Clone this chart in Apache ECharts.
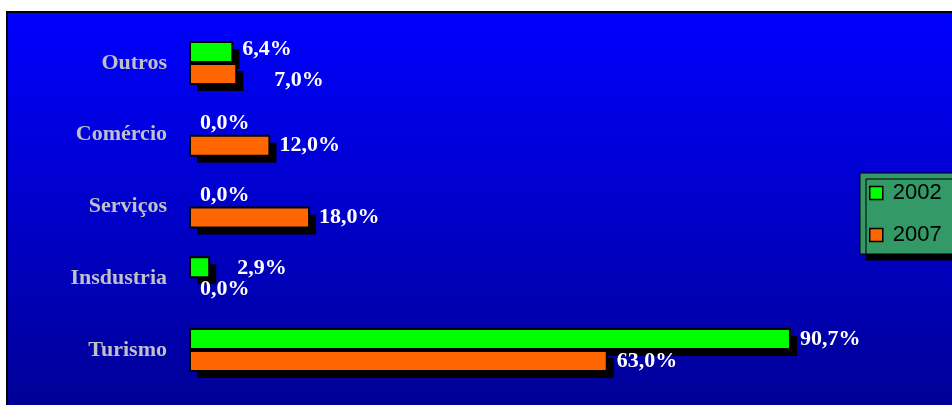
<!DOCTYPE html>
<html>
<head>
<meta charset="utf-8">
<script src="https://cdn.jsdelivr.net/npm/echarts@6/dist/echarts.min.js"></script>
<style>
html,body{margin:0;padding:0;background:#fff;}
#c{width:952px;height:405px;}
</style>
</head>
<body>
<div id="c"></div>
<script>
// ---- data ----
const categories = ['Outros', 'Comércio', 'Serviços', 'Insdustria', 'Turismo'];
const seriesNames = ['2002', '2007'];
const values2002 = [6.4, 0.0, 0.0, 2.9, 90.7];
const values2007 = [7.0, 12.0, 18.0, 0.0, 63.0];

// ---- styling (label nudges copied from the reference layout) ----
const seriesColors = ['#00ff00', '#ff6600'];
const labelNudges = [
  [[0, -3], [0, 0], [0, 0], [18, 1], [0, 0]],
  [[28, 6], [0, 0], [0, 0], [0, 0], [0, 0]]
];

const chart = echarts.init(document.getElementById('c'), null, {renderer: 'canvas'});

function fmt(v) { return v.toFixed(1).replace('.', ',') + '%'; }

function makeRender(seriesIdx) {
  return function (params, api) {
    const val = api.value(0);
    const cat = api.value(1);
    const p0 = api.coord([0, cat]);
    const p1 = api.coord([val, cat]);
    const h = 20;
    const yTop = seriesIdx === 0 ? p0[1] - 21 : p0[1] + 1;
    const w = p1[0] - p0[0];
    const nudge = labelNudges[seriesIdx][params.dataIndex];
    const children = [];
    if (val > 0) {
      children.push({
        type: 'rect',
        shape: { x: p0[0] + 7, y: yTop + 7, width: w, height: h },
        style: { fill: '#000' },
        z2: 0
      });
      children.push({
        type: 'rect',
        shape: { x: p0[0], y: yTop, width: w, height: h },
        style: { fill: seriesColors[seriesIdx], stroke: '#000', lineWidth: 2 },
        z2: 1
      });
    }
    children.push({
      type: 'text',
      x: p1[0] + 10 + nudge[0],
      y: yTop + h / 2 + nudge[1],
      style: {
        text: fmt(val),
        fill: '#fff',
        font: 'bold 22px "Liberation Serif"',
        verticalAlign: 'middle',
        align: 'left'
      },
      z2: 5
    });
    return { type: 'group', children: children };
  };
}

function buildSeries(idx, vals) {
  return {
    name: seriesNames[idx],
    type: 'custom',
    renderItem: makeRender(idx),
    itemStyle: { color: seriesColors[idx] },
    encode: { x: 0, y: 1 },
    z: 2 + idx,
    data: vals.map((v, i) => [v, i])
  };
}

chart.setOption({
  backgroundColor: '#fff',
  animation: false,
  graphic: [{
    type: 'rect',
    z: -10,
    shape: { x: 7, y: 12, width: 1000, height: 450 },
    style: {
      fill: new echarts.graphic.LinearGradient(0, 0, 0, 1, [
        { offset: 0, color: '#0000ff' },
        { offset: 1, color: '#000088' }
      ]),
      stroke: '#000',
      lineWidth: 2
    }
  }],
  grid: { left: 190, right: 100.5, top: 27, bottom: 19, containLabel: false },
  xAxis: {
    type: 'value', min: 0, max: 100,
    show: false
  },
  yAxis: {
    type: 'category',
    data: categories,
    inverse: true,
    axisLine: { show: false },
    axisTick: { show: false },
    splitLine: { show: false },
    axisLabel: {
      margin: 23,
      color: '#c0c0c8',
      fontFamily: 'Liberation Serif',
      fontWeight: 'bold',
      fontSize: 22
    }
  },
  legend: {
    orient: 'vertical',
    left: 860,
    top: 173,
    padding: [9, 30, 8, 9],
    itemGap: 20,
    itemWidth: 13,
    itemHeight: 13,
    icon: 'rect',
    backgroundColor: '#339966',
    borderColor: '#000',
    borderWidth: 1,
    borderRadius: 0,
    shadowColor: '#000',
    shadowBlur: 0,
    shadowOffsetX: 6,
    shadowOffsetY: 6,
    itemStyle: { borderColor: '#000', borderWidth: 1.5 },
    textStyle: { color: '#000', fontFamily: 'Liberation Sans', fontSize: 22, padding: [0, 0, 0, 5] },
    data: seriesNames
  },
  series: [
    buildSeries(0, values2002),
    buildSeries(1, values2007)
  ]
});
</script>
</body>
</html>
